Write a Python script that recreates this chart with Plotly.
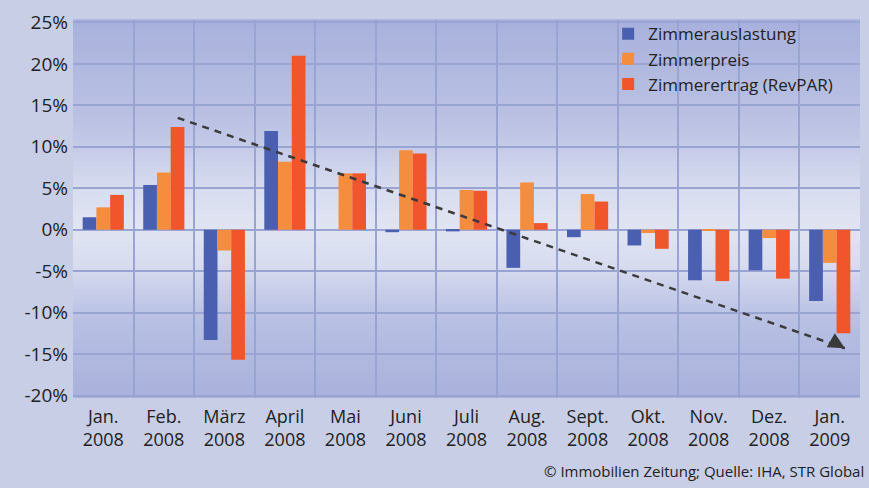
import plotly.graph_objects as go

# ---------------- data ----------------
categories = ["Jan.<br>2008", "Feb.<br>2008", "März<br>2008", "April<br>2008", "Mai<br>2008",
              "Juni<br>2008", "Juli<br>2008", "Aug.<br>2008", "Sept.<br>2008", "Okt.<br>2008",
              "Nov.<br>2008", "Dez.<br>2008", "Jan.<br>2009"]
auslastung = [1.5, 5.4, -13.3, 11.9, 0.0, -0.3, -0.2, -4.6, -0.9, -1.9, -6.1, -4.9, -8.6]
preis      = [2.7, 6.9, -2.5, 8.2, 6.8, 9.6, 4.8, 5.7, 4.3, -0.4, -0.1, -1.0, -4.0]
ertrag     = [4.2, 12.4, -15.7, 21.0, 6.8, 9.2, 4.7, 0.8, 3.4, -2.3, -6.2, -5.9, -12.5]
series_names = ["Zimmerauslastung", "Zimmerpreis", "Zimmerertrag (RevPAR)"]
y_ticks = [-20, -15, -10, -5, 0, 5, 10, 15, 20, 25]
y_ticklabels = [f"{v}%" for v in y_ticks]
# trend arrow (category index, percent)
trend_start = (1.23, 13.5)
trend_end = (12.25, -14.3)
credit = "© Immobilien Zeitung; Quelle: IHA, STR Global"

# ---------------- style ----------------
colors = ["#4a5fb0", "#f58d3e", "#f1552b"]
FONT = "Open Sans"
TXT = "#222222"
GRID = "#9aa4d2"

x_idx = list(range(len(categories)))

fig = go.Figure()
for name, vals, col in zip(series_names, [auslastung, preis, ertrag], colors):
    fig.add_trace(go.Bar(x=x_idx, y=vals, name=name, marker=dict(color=col, line=dict(width=0))))

# gradient background bands for plot area
def hex2rgb(h):
    h = h.lstrip("#")
    return tuple(int(h[i:i + 2], 16) for i in (0, 2, 4))

stops = [(0.0, "#a9b1dc"), (0.2, "#b7bfe3"), (0.35, "#d6dbef"), (0.45, "#e1e5f2"),
         (0.55, "#d7dcef"), (0.72, "#bcc3e4"), (1.0, "#a8b1dc")]

def color_at(t):
    for (t0, c0), (t1, c1) in zip(stops[:-1], stops[1:]):
        if t0 <= t <= t1:
            f = (t - t0) / (t1 - t0) if t1 > t0 else 0
            a, b = hex2rgb(c0), hex2rgb(c1)
            return "rgb(%d,%d,%d)" % tuple(round(a[i] + (b[i] - a[i]) * f) for i in range(3))
    return stops[-1][1]

N = 80
shapes = []
for k in range(N):
    y0 = k / N
    y1 = (k + 1) / N
    shapes.append(dict(type="rect", xref="x domain", yref="y domain", x0=0, x1=1, y0=y0, y1=y1 + 0.002,
                       fillcolor=color_at((y0 + y1) / 2), line=dict(width=0), layer="below"))
# dashed trend line
shapes.append(dict(type="line", xref="x", yref="y", x0=trend_start[0], y0=trend_start[1],
                   x1=trend_end[0], y1=trend_end[1], line=dict(color="#3a3a3a", width=2.5, dash="7px,6px"),
                   layer="above"))

fig.update_layout(
    width=869, height=488,
    paper_bgcolor="#c7cee5", plot_bgcolor="rgba(0,0,0,0)",
    margin=dict(l=73, r=9, t=17, b=90),
    barmode="group", bargap=0.32, bargroupgap=0,
    font=dict(family=FONT, color=TXT, size=17),
    shapes=shapes,
    showlegend=True,
    legend=dict(x=0.68, y=1.01, xanchor="left", yanchor="top", bgcolor="rgba(0,0,0,0)",
                font=dict(size=17, color=TXT), tracegroupgap=0, itemwidth=30),
    xaxis=dict(range=[-0.5, len(categories) - 0.5], tickvals=x_idx, ticktext=categories,
               showgrid=False, zeroline=False, showline=False, ticks="", ticklabelstandoff=6,
               tickfont=dict(size=18, color=TXT),
               minor=dict(tickvals=[i - 0.5 for i in range(len(categories) + 1)], showgrid=True,
                          gridcolor=GRID, gridwidth=1.5)),
    yaxis=dict(range=[-20.3, 25.3], tickvals=y_ticks, ticktext=y_ticklabels,
               showgrid=True, gridcolor=GRID, gridwidth=1.5, zeroline=True, zerolinecolor=GRID,
               zerolinewidth=1.5, showline=False, ticks="", ticklabelstandoff=4,
               tickfont=dict(size=19, color=TXT)),
)

# arrow head
fig.add_annotation(x=trend_end[0], y=trend_end[1], ax=trend_end[0] - 0.12, ay=trend_end[1] + 0.5,
                   xref="x", yref="y", axref="x", ayref="y", text="", showarrow=True,
                   arrowhead=2, arrowsize=1.3, arrowwidth=2.5, arrowcolor="#3a3a3a")
# credit
fig.add_annotation(text=credit, xref="paper", yref="paper", x=1.008, y=-0.194, xanchor="right",
                   yanchor="middle", showarrow=False, font=dict(size=15, color=TXT))

fig.write_html("out.html", config={"displayModeBar": False},
               post_script="document.body.style.margin='0';")
